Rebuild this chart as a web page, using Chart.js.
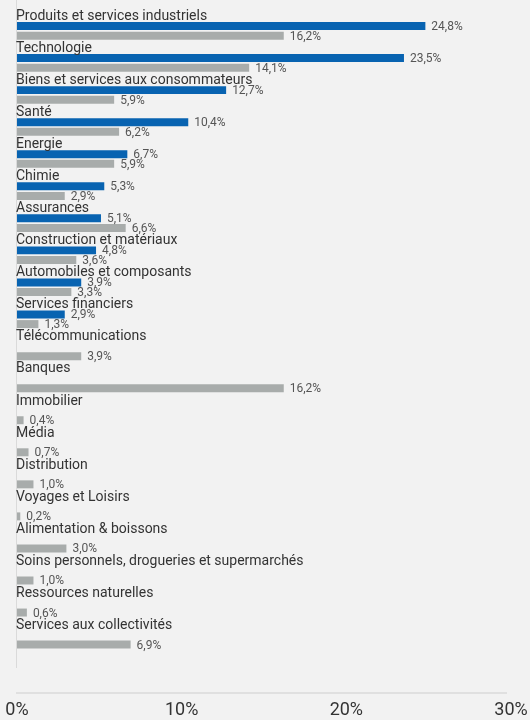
<!DOCTYPE html>
<html lang="fr">
<head>
<meta charset="utf-8">
<script src="https://cdn.jsdelivr.net/npm/chart.js@4.4.1/dist/chart.umd.min.js"></script>
<style>
  html, body { margin: 0; padding: 0; background: #f2f2f2; }
  #wrap { width: 530px; height: 720px; position: relative; }
</style>
</head>
<body>
<div id="wrap"><canvas id="chart"></canvas></div>
<script>
const categories = [
  "Produits et services industriels",
  "Technologie",
  "Biens et services aux consommateurs",
  "Santé",
  "Energie",
  "Chimie",
  "Assurances",
  "Construction et matériaux",
  "Automobiles et composants",
  "Services financiers",
  "Télécommunications",
  "Banques",
  "Immobilier",
  "Média",
  "Distribution",
  "Voyages et Loisirs",
  "Alimentation & boissons",
  "Soins personnels, drogueries et supermarchés",
  "Ressources naturelles",
  "Services aux collectivités",
];

// fonds (bleu) et indice (gris), en %
const fundValues = [24.8, 23.5, 12.7, 10.4, 6.7, 5.3, 5.1, 4.8, 3.9, 2.9,
  null, null, null, null, null, null, null, null, null, null];
const indexValues = [16.2, 14.1, 5.9, 6.2, 5.9, 2.9, 6.6, 3.6, 3.3, 1.3,
  3.9, 16.2, 0.4, 0.7, 1.0, 0.2, 3.0, 1.0, 0.6, 6.9];

const xTicks = [0, 10, 20, 30];

const BLUE = "#0863b1";
const GREY = "#a8acab";
const FONT = "Roboto";

function formatPct(value) {
  return value.toFixed(1).replace(".", ",") + "%";
}

// noms des secteurs au-dessus des barres + valeurs a droite
const sectorLabels = {
  id: "sectorLabels",
  beforeDatasetsDraw(chart) {
    const { ctx, chartArea } = chart;
    ctx.save();
    ctx.strokeStyle = "#dadada";
    ctx.lineWidth = 1;
    ctx.beginPath();
    ctx.moveTo(chartArea.left - 0.5, 0);
    ctx.lineTo(chartArea.left - 0.5, chartArea.bottom + 17);
    ctx.stroke();
    ctx.lineWidth = 1.5;
    ctx.beginPath();
    ctx.moveTo(chartArea.left - 1, chartArea.bottom + 42);
    ctx.lineTo(chartArea.right - 4, chartArea.bottom + 42);
    ctx.stroke();
    ctx.restore();
  },
  afterDatasetsDraw(chart) {
    const { ctx, chartArea } = chart;
    const spacer = chart.getDatasetMeta(0).data;
    ctx.save();
    ctx.textBaseline = "middle";
    ctx.textAlign = "left";
    ctx.font = `14px ${FONT}`;
    ctx.fillStyle = "#333333";
    categories.forEach((name, i) => {
      ctx.fillText(name, chartArea.left - 1, spacer[i].y);
    });

    ctx.font = `12px ${FONT}`;
    ctx.fillStyle = "#555555";
    [1, 2].forEach((ds) => {
      const values = chart.data.datasets[ds].data;
      chart.getDatasetMeta(ds).data.forEach((bar, i) => {
        if (values[i] == null) return;
        ctx.fillText(formatPct(values[i]), bar.x + 6, bar.y + 1);
      });
    });
    ctx.restore();
  },
};

new Chart(document.getElementById("chart"), {
  type: "bar",
  data: {
    labels: categories,
    datasets: [
      {
        label: "",
        data: categories.map(() => 0),
        backgroundColor: "rgba(0,0,0,0)",
      },
      {
        label: "Fonds",
        data: fundValues,
        backgroundColor: BLUE,
      },
      {
        label: "Indice",
        data: indexValues,
        backgroundColor: GREY,
      },
    ],
  },
  options: {
    indexAxis: "y",
    responsive: true,
    maintainAspectRatio: false,
    animation: false,
    categoryPercentage: 0.9,
    barPercentage: 0.83,
    layout: {
      padding: { top: 10, left: 17, right: 19, bottom: 0 },
    },
    plugins: {
      legend: { display: false },
      tooltip: { enabled: false },
    },
    scales: {
      y: {
        display: false,
      },
      x: {
        min: xTicks[0],
        max: xTicks[xTicks.length - 1],
        afterBuildTicks(axis) {
          axis.ticks = xTicks.map((v) => ({ value: v }));
        },
        afterFit(axis) {
          axis.height = 69;
          axis.paddingLeft = 0;
          axis.paddingRight = 0;
        },
        grid: { display: false, drawTicks: false },
        border: { display: false },
        ticks: {
          padding: 50,
          color: "#333333",
          font: { family: FONT, size: 18, lineHeight: 1 },
          maxRotation: 0,
          callback(value) {
            return `${value}%`;
          },
        },
      },
    },
  },
  plugins: [sectorLabels],
});
</script>
</body>
</html>
